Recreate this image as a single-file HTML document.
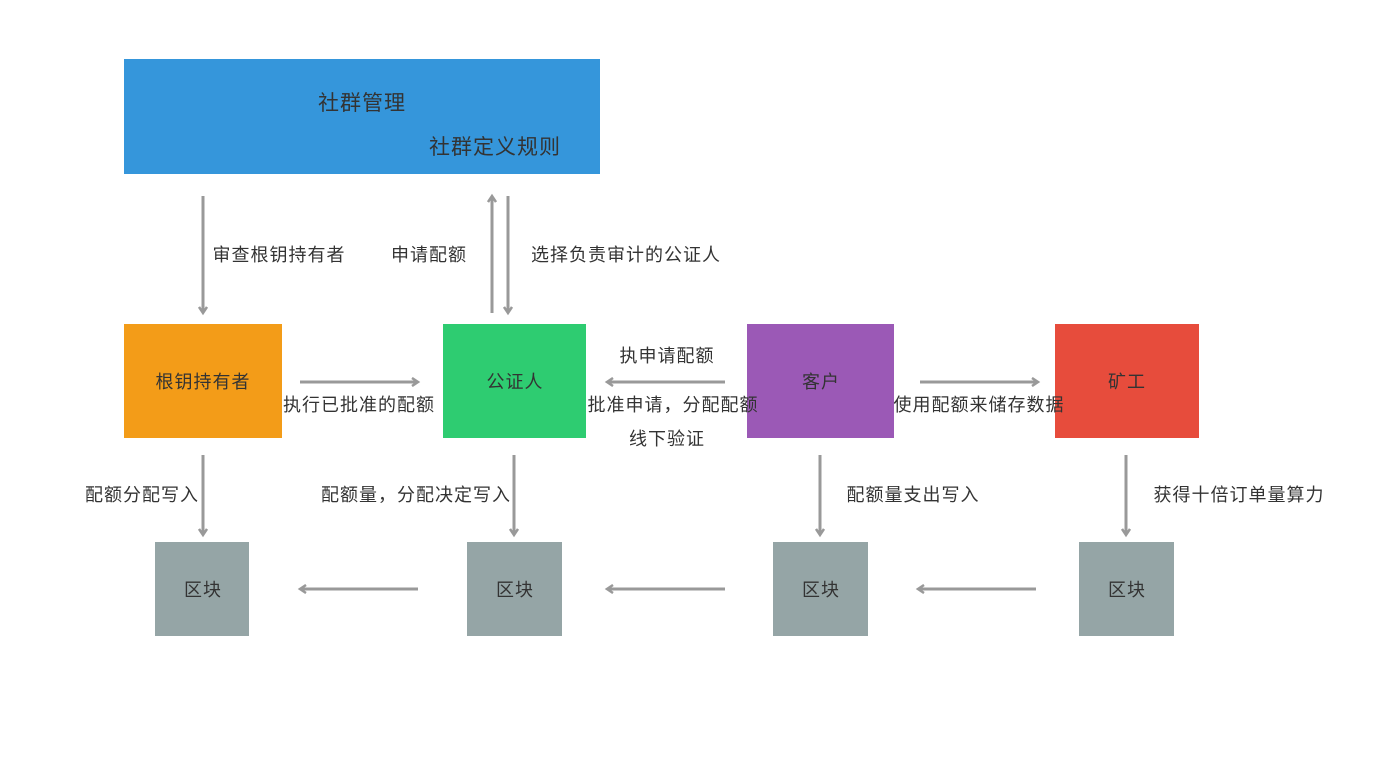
<!DOCTYPE html>
<html><head><meta charset="utf-8"><style>
html,body{margin:0;padding:0;background:#fff;}
svg{display:block;}
text{font-family:"Liberation Sans","Noto Sans CJK SC",sans-serif;fill:#333;letter-spacing:1px;}
</style></head><body>
<svg width="1390" height="758" viewBox="0 0 1390 758" xmlns="http://www.w3.org/2000/svg">
<defs>
<marker id="a" markerWidth="10" markerHeight="10" refX="7" refY="5" orient="auto" markerUnits="userSpaceOnUse">
<path d="M1,1 L7,5 L1,9" fill="none" stroke="#999" stroke-width="2.5"/>
</marker>
</defs>
<rect x="124" y="59" width="476" height="115" fill="#3596db"/>
<rect x="124" y="324" width="158" height="114" fill="#f39c18"/>
<rect x="443" y="324" width="143" height="114" fill="#2ecc71"/>
<rect x="747" y="324" width="147" height="114" fill="#9b59b6"/>
<rect x="1055" y="324" width="144" height="114" fill="#e74c3c"/>
<rect x="155" y="542" width="94" height="94" fill="#95a5a6"/>
<rect x="467" y="542" width="95" height="94" fill="#95a5a6"/>
<rect x="773" y="542" width="95" height="94" fill="#95a5a6"/>
<rect x="1079" y="542" width="95" height="94" fill="#95a5a6"/>
<g stroke="#999" stroke-width="3" fill="none" marker-end="url(#a)">
<line x1="203" y1="196" x2="203" y2="313"/>
<line x1="492" y1="313" x2="492" y2="196"/>
<line x1="508" y1="196" x2="508" y2="313"/>
<line x1="300" y1="382" x2="418" y2="382"/>
<line x1="725" y1="382" x2="607" y2="382"/>
<line x1="920" y1="382" x2="1038" y2="382"/>
<line x1="203" y1="455" x2="203" y2="535"/>
<line x1="514" y1="455" x2="514" y2="535"/>
<line x1="820" y1="455" x2="820" y2="535"/>
<line x1="1126" y1="455" x2="1126" y2="535"/>
<line x1="418" y1="589" x2="300" y2="589"/>
<line x1="725" y1="589" x2="607" y2="589"/>
<line x1="1036" y1="589" x2="918" y2="589"/>
</g>
<g text-anchor="middle" font-size="21" style="letter-spacing:1.5px">
<text x="362" y="110">社群管理</text>
<text x="495" y="154">社群定义规则</text>
</g>
<g text-anchor="middle" font-size="18">
<text x="203" y="388">根钥持有者</text>
<text x="515" y="388">公证人</text>
<text x="821" y="388">客户</text>
<text x="1127" y="388">矿工</text>
<text x="203" y="596">区块</text>
<text x="515" y="596">区块</text>
<text x="821" y="596">区块</text>
<text x="1127" y="596">区块</text>
<text x="279" y="261">审查根钥持有者</text>
<text x="429" y="261">申请配额</text>
<text x="626" y="261">选择负责审计的公证人</text>
<text x="359" y="411">执行已批准的配额</text>
<text x="667" y="362">执申请配额</text>
<text x="673" y="411">批准申请，分配配额</text>
<text x="667" y="445">线下验证</text>
<text x="979" y="411">使用配额来储存数据</text>
<text x="142" y="501">配额分配写入</text>
<text x="416" y="501">配额量，分配决定写入</text>
<text x="913" y="501">配额量支出写入</text>
<text x="1239" y="501">获得十倍订单量算力</text>
</g>
</svg>
</body></html>
